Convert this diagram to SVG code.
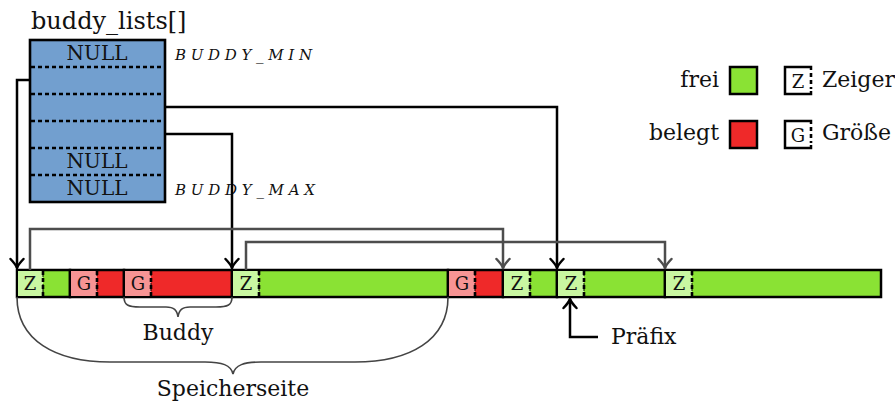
<svg xmlns="http://www.w3.org/2000/svg" width="895" height="405" viewBox="0 0 895 405">
<defs>
<marker id="ab" markerUnits="userSpaceOnUse" markerWidth="20" markerHeight="20" refX="0" refY="0" viewBox="-12 -10 14 20" orient="auto" overflow="visible">
<path d="M-9,-6.5 Q-3.5,-1.2 0,0 Q-3.5,1.2 -9,6.5" fill="none" stroke="#000" stroke-width="2.5" stroke-linecap="round" stroke-linejoin="round"/>
</marker>
<marker id="ag" markerUnits="userSpaceOnUse" markerWidth="20" markerHeight="20" refX="0" refY="0" viewBox="-12 -10 14 20" orient="auto" overflow="visible">
<path d="M-9,-6.5 Q-3.5,-1.2 0,0 Q-3.5,1.2 -9,6.5" fill="none" stroke="#4d4d4d" stroke-width="2.5" stroke-linecap="round" stroke-linejoin="round"/>
</marker>
</defs>
<style>
text{font-family:"DejaVu Serif","Liberation Serif",serif;fill:#111}
.lbl{font-size:22px}
.null{font-size:20px;text-anchor:middle}
.const{font-size:15px;font-style:italic}
.cell{font-size:18px;text-anchor:middle}
.free{fill:#8ae234}
.used{fill:#ef2929}
.zc{fill:#c9f7a1}
.gc{fill:#f79494}
.blk{stroke:#000;stroke-width:2.5}
.cd{fill:none;stroke:#000;stroke-width:1;stroke-dasharray:3 2}
.cr{fill:none;stroke:#000;stroke-width:2.6;stroke-dasharray:4 3}
.rowdash{stroke:#000;stroke-width:2.4;stroke-dasharray:4 3}
.bk{fill:none;stroke:#000;stroke-width:2.5}
.gr{fill:none;stroke:#4d4d4d;stroke-width:2.5}
.brace{fill:none;stroke:#444;stroke-width:1.6}
</style>

<g id="buddy_lists">
<text x="31" y="29" style="font-size:24px">buddy_lists[]</text>
<rect x="30" y="40" width="135" height="162" fill="#729fcf" stroke="#000" stroke-width="2.6"/>
<line class="rowdash" x1="31" y1="67" x2="164" y2="67"/>
<line class="rowdash" x1="31" y1="94" x2="164" y2="94"/>
<line class="rowdash" x1="31" y1="121" x2="164" y2="121"/>
<line class="rowdash" x1="31" y1="148" x2="164" y2="148"/>
<line class="rowdash" x1="31" y1="175" x2="164" y2="175"/>
<text class="null" x="97" y="60">NULL</text>
<text class="null" x="97" y="168">NULL</text>
<text class="null" x="97" y="195">NULL</text>
<text class="const" x="175" y="60" textLength="137" lengthAdjust="spacing">BUDDY_MIN</text>
<text class="const" x="175" y="195" textLength="140" lengthAdjust="spacing">BUDDY_MAX</text>
</g>

<g id="memory">
<g id="block1"><rect class="free blk" x="17" y="270" width="53" height="27"/><rect class="zc" x="18" y="271" width="25" height="25"/><rect class="cd" x="17" y="270" width="26" height="27"/><line class="cr" x1="43" y1="271" x2="43" y2="296"/><text class="cell" x="30" y="290">Z</text></g>
<g id="block2"><rect class="used blk" x="70" y="270" width="54" height="27"/><rect class="gc" x="71" y="271" width="26" height="25"/><rect class="cd" x="70" y="270" width="27" height="27"/><line class="cr" x1="97" y1="271" x2="97" y2="296"/><text class="cell" x="84" y="290">G</text></g>
<g id="block3"><rect class="used blk" x="124" y="270" width="108" height="27"/><rect class="gc" x="125" y="271" width="26" height="25"/><rect class="cd" x="124" y="270" width="27" height="27"/><line class="cr" x1="151" y1="271" x2="151" y2="296"/><text class="cell" x="138" y="290">G</text></g>
<g id="block4"><rect class="free blk" x="232" y="270" width="216" height="27"/><rect class="zc" x="233" y="271" width="26" height="25"/><rect class="cd" x="232" y="270" width="27" height="27"/><line class="cr" x1="259" y1="271" x2="259" y2="296"/><text class="cell" x="246" y="290">Z</text></g>
<g id="block5"><rect class="used blk" x="448" y="270" width="55" height="27"/><rect class="gc" x="449" y="271" width="26" height="25"/><rect class="cd" x="448" y="270" width="27" height="27"/><line class="cr" x1="475" y1="271" x2="475" y2="296"/><text class="cell" x="462" y="290">G</text></g>
<g id="block6"><rect class="free blk" x="503" y="270" width="54" height="27"/><rect class="zc" x="504" y="271" width="26" height="25"/><rect class="cd" x="503" y="270" width="27" height="27"/><line class="cr" x1="530" y1="271" x2="530" y2="296"/><text class="cell" x="517" y="290">Z</text></g>
<g id="block7"><rect class="free blk" x="557" y="270" width="108" height="27"/><rect class="zc" x="558" y="271" width="26" height="25"/><rect class="cd" x="557" y="270" width="27" height="27"/><line class="cr" x1="584" y1="271" x2="584" y2="296"/><text class="cell" x="571" y="290">Z</text></g>
<g id="block8"><rect class="free blk" x="665" y="270" width="216" height="27"/><rect class="zc" x="666" y="271" width="26" height="25"/><rect class="cd" x="665" y="270" width="27" height="27"/><line class="cr" x1="692" y1="271" x2="692" y2="296"/><text class="cell" x="679" y="290">Z</text></g>
</g>

<g id="connectors">
<path class="bk" d="M30,80 H17 V268" marker-end="url(#ab)"/>
<path class="bk" d="M165,107 H557 V268" marker-end="url(#ab)"/>
<path class="bk" d="M165,134 H232 V268" marker-end="url(#ab)"/>
<path class="gr" d="M30,270 V229 H503 V268" marker-end="url(#ag)"/>
<path class="gr" d="M246,270 V242 H665 V268" marker-end="url(#ag)"/>
<path class="bk" d="M598,337 H570 V299" marker-end="url(#ab)"/>
</g>

<g id="buddy_brace">
<path class="brace" d="M124,297 C124,305 128,307 140,307 H166 C174,307 177,310 178,317 C179,310 182,307 190,307 H216 C228,307 232,305 232,297"/>
<text class="lbl" x="178" y="340" text-anchor="middle">Buddy</text>
</g>
<g id="page_brace">
<path class="brace" d="M17,297 C17,340 55,362 110,362 H205 C222,362 231,365 233,374 C235,365 244,362 261,362 H355 C410,362 448,340 448,297"/>
<text class="lbl" x="233" y="396" text-anchor="middle">Speicherseite</text>
</g>
<g id="prefix_label">
<text class="lbl" x="611" y="344">Präfix</text>
</g>

<g id="legend">
<text class="lbl" x="719" y="87" text-anchor="end">frei</text>
<rect class="free" x="730" y="67" width="27" height="27" stroke="#000" stroke-width="2.5"/>
<text class="lbl" x="719" y="140" text-anchor="end">belegt</text>
<rect class="used" x="730" y="121" width="27" height="27" stroke="#000" stroke-width="2.5"/>
<path d="M811,70 V67 H785 V94 H811 V91" fill="none" stroke="#000" stroke-width="2.5"/>
<line class="cr" x1="811" y1="73" x2="811" y2="89"/>
<text class="cell" x="798" y="88">Z</text>
<text class="lbl" x="822" y="87">Zeiger</text>
<path d="M811,124 V121 H785 V148 H811 V145" fill="none" stroke="#000" stroke-width="2.5"/>
<line class="cr" x1="811" y1="127" x2="811" y2="143"/>
<text class="cell" x="798" y="142">G</text>
<text class="lbl" x="822" y="140">Größe</text>
</g>
</svg>
